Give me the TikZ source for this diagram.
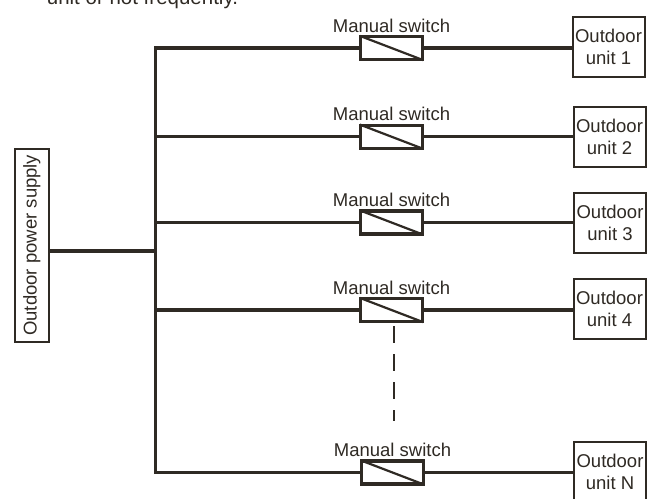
\documentclass[tikz,border=0pt]{standalone}
\usepackage{fontspec}
\setmainfont{Liberation Sans}
\definecolor{ink}{HTML}{2F2A24}
\begin{document}
\begin{tikzpicture}[x=1pt,y=-1pt,
  txt/.style={font=\fontsize{18.5}{22}\selectfont, text=ink, inner sep=0pt},
  wire/.style={draw=ink, line width=3.4pt},
  unitbox/.style={txt, draw=ink, line width=2pt, fill=white, minimum width=72pt, minimum height=60pt, align=center},
  swbox/.style={draw=ink, line width=2.2pt, fill=white, minimum width=61pt, minimum height=22pt, inner sep=0pt},
  lbl/.style={txt},
  psbox/.style={txt, draw=ink, line width=2pt, fill=white, minimum width=34pt, minimum height=193pt}
]
\useasboundingbox (0,0) rectangle (652,498);
\fill[white] (0,0) rectangle (652,498);

% cut-off sentence at the top
\node[txt, anchor=base west, font=\fontsize{20.5}{24}\selectfont] (note) at (46.7,4.8) {unit or not frequently.};

% bus coordinates
\coordinate (b1) at (155.7,48);
\coordinate (b2) at (155.7,136.7);
\coordinate (b3) at (155.7,222.5);
\coordinate (b4) at (155.7,310);
\coordinate (bN) at (155.7,472.5);
\coordinate (f) at (155.7,251);

% power supply
\node[psbox] (ps) at (31.9,245.2) {\rotatebox{90}{Outdoor power supply}};

% switches
\node[swbox] (sw1) at (391.5,48) {};
\node[swbox] (sw2) at (391.5,136.7) {};
\node[swbox] (sw3) at (391.5,222.5) {};
\node[swbox] (sw4) at (391.5,310) {};
\node[swbox] (swN) at (392.5,472.5) {};

% switch labels
\node[lbl] (l1) at (391.5,25.5) {Manual switch};
\node[lbl] (l2) at (391.5,114.2) {Manual switch};
\node[lbl] (l3) at (391.5,200) {Manual switch};
\node[lbl] (l4) at (391.5,287.5) {Manual switch};
\node[lbl] (lN) at (392.5,450) {Manual switch};

% outdoor units
\node[unitbox] (u1) at (608.5,47) {Outdoor\\unit 1};
\node[unitbox] (u2) at (609.5,136.5) {Outdoor\\unit 2};
\node[unitbox] (u3) at (610,222.5) {Outdoor\\unit 3};
\node[unitbox] (u4) at (609.5,308.5) {Outdoor\\unit 4};
\node[unitbox] (uN) at (610,472) {Outdoor\\unit N};

% wiring
\draw[wire] (ps.east |- f) -- (f);
\draw[wire] (sw1.west) -- (b1) -- (bN) -- (swN.west);
\draw[wire] (b2) -- (sw2.west);
\draw[wire] (b3) -- (sw3.west);
\draw[wire] (b4) -- (sw4.west);
\draw[wire] (sw1.east) -- (u1.west |- sw1.east);
\draw[wire] (sw2.east) -- (u2.west |- sw2.east);
\draw[wire] (sw3.east) -- (u3.west |- sw3.east);
\draw[wire] (sw4.east) -- (u4.west |- sw4.east);
\draw[wire] (swN.east) -- (uN.west |- swN.east);

% redraw switch boxes on top with their diagonals
\foreach \s in {sw1,sw2,sw3,sw4,swN}{
  \draw[draw=ink, line width=2.2pt] (\s.north west) rectangle (\s.south east);
  \draw[draw=ink, line width=2.2pt] (\s.north west) -- (\s.south east);
}

% dashed continuation
\coordinate (d1) at (394,326);
\coordinate (d2) at (394,421);
\draw[draw=ink, line width=2.4pt, dash pattern=on 17pt off 11pt] (d1) -- (d2);
\end{tikzpicture}
\end{document}
